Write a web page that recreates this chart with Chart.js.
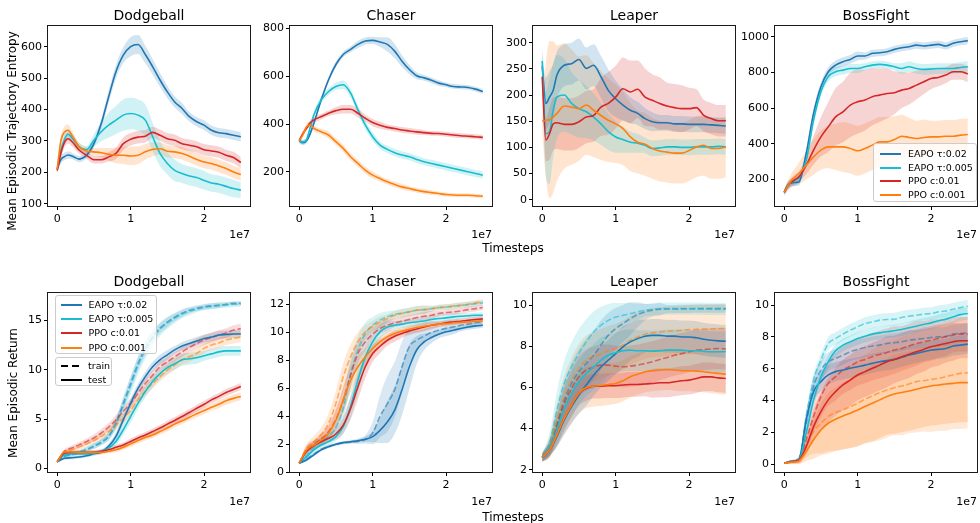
<!DOCTYPE html>
<html><head><meta charset="utf-8">
<script src="https://cdn.jsdelivr.net/npm/chart.js@4.4.1/dist/chart.umd.min.js"></script>
<style>
html,body{margin:0;padding:0;background:#fff;}
#fig{position:relative;width:980px;height:523px;overflow:hidden;font-family:"DejaVu Sans",sans-serif;color:#000;}
#fig canvas{position:absolute;}
.txt{position:absolute;white-space:nowrap;line-height:1;}
.leg{position:absolute;background:rgba(255,255,255,0.8);border:1px solid #cccccc;border-radius:3px;box-sizing:border-box;font-size:9.5px;z-index:5;}
.leg .ln{position:absolute;height:2px;transform:translateY(-50%);}
.leg .lb{position:absolute;transform:translateY(-50%);line-height:1;white-space:nowrap;}
</style></head><body><div id="fig"></div><script>
// ---------- labels ----------
const COLORS = ['#1f77b4','#17becf','#d62728','#ff7f0e'];
const METHODS = ['EAPO \u03c4:0.02','EAPO \u03c4:0.005','PPO c:0.01','PPO c:0.001'];
const ENVS = ['Dodgeball','Chaser','Leaper','BossFight'];
const YLABEL_TOP = 'Mean Episodic Trajectory Entropy';
const YLABEL_BOT = 'Mean Episodic Return';
const XLABEL = 'Timesteps';

// x positions in units of 1e6 timesteps
const X_TOP = [0,0.5,1,1.5,2,3,4,5,6,7,8,9,10,11,12,13,14,15,16,17,18,19,20,21,22,23,24,25];
const X_BOT = [0,1,2,3,4,5,6,7,8,9,10,11,12,13,14,15,16,17,18,19,20,21,22,23,24,25];
const X_TICKS = [0,10,20];

// ---------- tick values ----------
const YT_TOP_DB = [100,200,300,400,500,600];
const YT_TOP_CH = [200,400,600,800];
const YT_TOP_LP = [0,50,100,150,200,250,300];
const YT_TOP_BF = [200,400,600,800,1000];
const YT_BOT_DB = [0,5,10,15];
const YT_BOT_CH = [0,2,4,6,8,10,12];
const YT_BOT_LP = [2,4,6,8,10];
const YT_BOT_BF = [0,2,4,6,8,10];

// ---------- top row: trajectory entropy (mean, half-width of band) ----------
const DB_E02   = [210,240,250,255,252,242,254,291,355,440,520,573,600,607,575,536,494,456,424,403,377,361,350,334,326,323,318,313];
const DB_E02_S = [10,12,12,12,10,10,10,12,15,20,22,25,30,30,28,25,22,20,18,18,15,15,15,15,15,15,15,15];
const DB_E005  = [210,270,305,322,310,281,272,302,329,350,366,382,387,382,366,313,260,228,206,196,188,183,174,166,162,155,148,143];
const DB_E005_S= [10,15,15,15,15,12,12,20,30,40,45,50,50,50,50,45,40,35,35,30,30,30,30,28,28,28,28,25];
const DB_P01   = [205,260,295,307,298,270,254,240,240,249,260,291,305,312,315,327,318,307,302,291,286,281,272,268,264,254,247,231];
const DB_P01_S = [10,15,15,15,15,12,12,12,12,15,18,20,20,20,20,18,18,18,18,18,18,18,18,18,18,18,18,18];
const DB_P001  = [210,300,328,334,318,281,268,265,262,257,254,254,252,254,265,273,275,267,265,260,251,241,233,228,220,212,201,193];
const DB_P001_S= [10,15,18,18,15,12,12,12,15,20,25,28,30,28,25,22,20,20,20,20,20,20,20,20,20,20,20,20];

const CH_E02   = [330,322,330,360,403,501,585,649,691,712,733,747,750,743,733,705,663,628,602,593,583,571,564,557,555,553,546,536];
const CH_E02_S = [10,10,10,10,12,12,12,12,12,12,15,15,15,20,30,30,25,20,15,12,12,12,10,10,10,10,10,10];
const CH_E005  = [330,325,335,385,438,501,536,557,564,529,459,396,347,312,294,280,270,263,252,242,235,228,221,214,207,200,193,186];
const CH_E005_S= [10,10,10,12,12,15,15,15,18,18,18,18,18,15,15,15,15,15,15,15,15,15,15,15,15,15,15,15];
const CH_P01   = [330,360,382,405,417,431,445,456,462,462,445,424,406,395,386,381,375,371,367,364,361,360,357,354,351,349,347,344];
const CH_P01_S = [10,10,10,12,12,12,12,15,18,18,18,15,15,15,12,12,12,12,12,10,10,10,10,10,10,10,10,10];
const CH_P001  = [330,355,389,396,382,368,354,326,298,263,235,207,186,172,158,147,137,130,123,117,113,109,105,103,102,102,100,98];
const CH_P001_S= [10,10,12,12,12,12,15,15,15,15,15,15,15,12,12,12,12,10,10,10,10,8,8,8,8,8,8,8];

const LP_E02   = [255,184,196,209,238,257,260,268,251,257,235,209,193,181,171,165,155,149,147,147,145,145,144,144,144,143,142,141];
const LP_E02_S = [30,50,50,50,45,40,40,40,40,40,40,40,35,30,25,22,20,18,15,15,15,15,15,15,15,15,15,15];
const LP_E005  = [265,126,130,171,196,200,184,174,168,158,145,130,120,115,110,108,104,98,99,101,101,100,100,101,101,101,102,101];
const LP_E005_S= [20,80,100,90,80,70,60,55,50,45,40,35,30,25,20,18,15,15,15,15,15,15,15,15,15,15,15,15];
const LP_P01   = [235,114,126,145,147,144,144,149,158,161,177,184,196,212,206,211,196,190,184,179,176,174,174,176,161,155,151,151];
const LP_P01_S = [20,40,50,50,50,50,50,50,50,50,55,60,60,60,60,55,55,50,50,45,45,45,40,35,30,30,30,30];
const LP_P001  = [150,152,153,158,165,179,177,174,181,171,161,152,145,136,120,110,106,98,93,91,89,89,94,101,104,98,98,101];
const LP_P001_S= [20,110,150,145,130,120,110,100,95,90,85,80,75,70,65,60,60,58,58,58,58,58,58,58,58,58,58,58];

const BF_E02   = [130,168,181,184,187,346,570,720,804,841,860,873,892,892,907,910,916,929,938,944,953,948,953,957,948,963,972,978];
const BF_E02_S = [15,20,20,20,20,25,25,25,25,25,25,25,25,20,20,20,20,20,20,20,20,20,20,20,20,20,20,20];
const BF_E005  = [125,165,185,200,210,308,533,692,776,804,813,822,822,832,841,845,841,832,822,832,822,817,819,822,822,822,828,832];
const BF_E005_S= [15,20,20,20,20,25,25,25,25,25,25,25,25,20,20,20,20,20,30,30,30,30,30,30,30,30,30,30];
const BF_P01   = [130,165,187,200,215,280,365,439,495,551,579,617,636,645,664,673,682,686,701,710,729,748,766,772,785,804,804,791];
const BF_P01_S = [15,20,25,30,30,50,80,110,140,160,170,180,180,170,160,150,140,120,100,90,80,70,60,50,45,45,45,45];
const BF_P001  = [130,165,196,215,234,280,327,365,383,383,383,374,361,374,393,411,411,424,443,436,430,436,439,439,443,443,449,452];
const BF_P001_S= [20,30,40,50,60,80,100,110,120,130,140,140,140,140,140,140,140,130,120,110,100,100,90,90,90,90,90,90];

// ---------- bottom row: episodic return, test (solid) and train (dashed) ----------
const DB2_E02_TE   = [0.7,1.04,1.1,1.17,1.3,1.5,1.68,2.25,3.26,4.93,6.6,8.1,9.3,10.3,11.0,11.5,12.0,12.4,12.65,12.9,13.15,13.3,13.5,13.55,13.6,13.6];
const DB2_E02_TE_S = [0.1,0.15,0.15,0.15,0.15,0.2,0.2,0.3,0.4,0.5,0.5,0.5,0.5,0.5,0.5,0.5,0.4,0.4,0.4,0.4,0.4,0.4,0.4,0.4,0.4,0.4];
const DB2_E005_TE  = [0.7,1.4,1.48,1.48,1.48,1.58,1.75,2.08,2.75,3.93,5.27,6.6,7.8,8.8,9.6,10.2,10.6,11.0,11.1,11.2,11.4,11.6,11.8,11.9,11.9,11.9];
const DB2_E005_TE_S= [0.1,0.15,0.15,0.15,0.15,0.2,0.2,0.3,0.4,0.5,0.6,0.6,0.6,0.6,0.6,0.6,0.6,0.6,0.6,0.6,0.5,0.5,0.5,0.5,0.5,0.5];
const DB2_P01_TE   = [0.7,1.58,1.64,1.64,1.64,1.68,1.75,1.9,2.15,2.4,2.75,3.1,3.4,3.75,4.1,4.5,4.87,5.27,5.67,6.1,6.5,6.95,7.3,7.7,8.0,8.3];
const DB2_P01_TE_S = [0.1,0.2,0.2,0.2,0.2,0.2,0.2,0.2,0.25,0.25,0.3,0.3,0.3,0.3,0.3,0.35,0.35,0.35,0.35,0.35,0.35,0.35,0.35,0.35,0.35,0.35];
const DB2_P001_TE  = [0.7,1.68,1.68,1.64,1.64,1.64,1.64,1.75,1.9,2.15,2.5,2.85,3.15,3.4,3.75,4.1,4.5,4.83,5.2,5.54,5.87,6.2,6.5,6.85,7.1,7.3];
const DB2_P001_TE_S= [0.1,0.2,0.2,0.2,0.2,0.2,0.2,0.2,0.25,0.25,0.3,0.3,0.3,0.3,0.3,0.35,0.35,0.35,0.35,0.35,0.35,0.35,0.4,0.4,0.4,0.4];
const DB2_E02_TR   = [0.7,1.25,1.4,1.64,1.9,2.25,2.65,3.25,4.6,6.6,8.6,10.6,12.15,13.3,14.2,14.8,15.3,15.7,16.0,16.2,16.35,16.45,16.5,16.6,16.7,16.7];
const DB2_E02_TR_S = [0.1,0.2,0.2,0.2,0.25,0.3,0.3,0.4,0.5,0.6,0.7,0.7,0.7,0.6,0.5,0.5,0.4,0.4,0.3,0.3,0.3,0.3,0.3,0.2,0.2,0.2];
const DB2_E005_TR  = [0.7,1.3,1.5,1.7,1.95,2.3,2.7,3.3,4.5,6.4,8.4,10.4,12.0,13.2,14.1,14.7,15.2,15.6,15.9,16.1,16.3,16.4,16.5,16.55,16.6,16.65];
const DB2_E005_TR_S= [0.1,0.2,0.2,0.2,0.25,0.3,0.3,0.4,0.6,0.8,0.9,0.9,0.9,0.8,0.7,0.6,0.5,0.4,0.4,0.3,0.3,0.3,0.3,0.3,0.3,0.3];
const DB2_P01_TR   = [0.7,1.75,2.08,2.4,2.75,3.1,3.6,4.2,4.93,5.8,6.6,7.6,8.6,9.45,10.3,10.8,11.3,11.8,12.25,12.65,13.0,13.25,13.5,13.7,14.0,14.15];
const DB2_P01_TR_S = [0.1,0.2,0.25,0.3,0.3,0.35,0.4,0.4,0.5,0.5,0.5,0.5,0.5,0.5,0.5,0.5,0.5,0.5,0.5,0.5,0.5,0.5,0.5,0.5,0.5,0.5];
const DB2_P001_TR  = [0.7,1.64,1.9,2.2,2.5,2.85,3.25,3.75,4.4,5.1,5.9,6.95,7.85,8.6,9.3,9.95,10.5,11.0,11.3,11.65,12.15,12.5,12.7,13.0,13.15,13.3];
const DB2_P001_TR_S= [0.1,0.2,0.25,0.3,0.3,0.35,0.4,0.4,0.5,0.5,0.5,0.5,0.5,0.5,0.5,0.5,0.5,0.5,0.5,0.5,0.5,0.5,0.5,0.5,0.5,0.5];

const CH2_E02_TE   = [0.65,0.88,1.24,1.6,1.83,2.0,2.12,2.19,2.26,2.36,2.55,3.0,3.6,4.45,5.9,7.55,8.75,9.33,9.64,9.88,10.05,10.17,10.29,10.4,10.48,10.52];
const CH2_E02_TE_S = [0.05,0.1,0.1,0.1,0.1,0.1,0.1,0.1,0.15,0.2,0.4,0.9,1.5,1.7,1.8,1.6,1.0,0.6,0.4,0.3,0.3,0.3,0.2,0.2,0.2,0.2];
const CH2_E005_TE  = [0.65,1.12,1.6,1.95,2.19,2.55,3.26,4.7,6.6,8.26,9.33,10.05,10.4,10.52,10.6,10.7,10.76,10.83,10.93,11.0,11.05,11.12,11.17,11.2,11.24,11.24];
const CH2_E005_TE_S= [0.05,0.15,0.2,0.2,0.25,0.3,0.5,0.8,0.9,0.8,0.6,0.5,0.4,0.3,0.3,0.3,0.3,0.3,0.3,0.3,0.3,0.3,0.2,0.2,0.2,0.2];
const CH2_P01_TE   = [0.65,1.48,1.9,2.19,2.43,2.74,3.38,4.57,6.12,7.55,8.5,9.02,9.45,9.74,9.93,10.12,10.26,10.4,10.52,10.6,10.7,10.76,10.81,10.88,10.93,10.98];
const CH2_P01_TE_S = [0.05,0.2,0.3,0.3,0.3,0.4,0.6,0.8,0.9,0.8,0.6,0.5,0.4,0.4,0.3,0.3,0.3,0.3,0.3,0.2,0.2,0.2,0.2,0.2,0.2,0.2];
const CH2_P001_TE  = [0.65,1.6,1.95,2.3,2.79,3.74,5.17,6.6,7.55,8.26,8.86,9.33,9.69,9.93,10.1,10.24,10.36,10.45,10.52,10.6,10.64,10.7,10.74,10.76,10.81,10.83];
const CH2_P001_TE_S= [0.05,0.3,0.3,0.4,0.5,0.7,0.9,0.9,0.8,0.6,0.5,0.4,0.4,0.3,0.3,0.3,0.3,0.3,0.2,0.2,0.2,0.2,0.2,0.2,0.2,0.2];
const CH2_E02_TR   = [0.65,0.95,1.3,1.65,1.85,2.0,2.1,2.15,2.2,2.35,2.8,4.0,4.9,5.9,7.55,9.0,9.45,9.74,10.0,10.17,10.3,10.4,10.52,10.6,10.7,10.76];
const CH2_E02_TR_S = [0.05,0.1,0.1,0.1,0.1,0.1,0.1,0.1,0.15,0.3,0.8,1.5,2.0,2.0,1.8,1.2,0.7,0.5,0.4,0.3,0.3,0.3,0.3,0.3,0.3,0.3];
const CH2_E005_TR  = [0.65,1.2,1.8,2.2,2.6,3.2,4.6,7.07,8.74,9.93,10.52,10.88,11.12,11.3,11.4,11.48,11.6,11.64,11.71,11.79,11.83,11.88,11.95,12.0,12.07,12.12];
const CH2_E005_TR_S= [0.05,0.2,0.3,0.3,0.4,0.5,0.8,1.0,1.0,0.8,0.6,0.5,0.4,0.3,0.3,0.3,0.3,0.3,0.2,0.2,0.2,0.2,0.2,0.2,0.2,0.2];
const CH2_P01_TR   = [0.65,1.6,2.0,2.4,2.9,3.8,5.17,6.95,8.5,9.33,9.88,10.29,10.52,10.69,10.81,10.93,11.07,11.17,11.24,11.36,11.43,11.48,11.55,11.64,11.71,11.79];
const CH2_P01_TR_S = [0.05,0.3,0.3,0.4,0.5,0.7,0.9,0.9,0.8,0.6,0.5,0.4,0.4,0.3,0.3,0.3,0.3,0.3,0.3,0.2,0.2,0.2,0.2,0.2,0.2,0.2];
const CH2_P001_TR  = [0.65,1.7,2.2,2.7,3.5,4.93,6.83,8.26,9.33,10.05,10.45,10.76,11.0,11.24,11.36,11.48,11.6,11.64,11.71,11.79,11.83,11.9,11.95,12.02,12.12,12.19];
const CH2_P001_TR_S= [0.05,0.3,0.4,0.5,0.7,0.9,1.0,0.9,0.7,0.5,0.4,0.4,0.3,0.3,0.3,0.3,0.3,0.3,0.2,0.2,0.2,0.2,0.2,0.2,0.2,0.2];

const LP2_E02_TE   = [2.6,2.97,3.62,4.42,5.07,5.64,6.12,6.6,7.0,7.33,7.65,7.98,8.22,8.38,8.5,8.54,8.54,8.5,8.5,8.46,8.46,8.42,8.35,8.3,8.27,8.25];
const LP2_E02_TE_S = [0.2,0.3,0.5,0.7,0.8,0.9,1.0,1.0,1.0,1.0,1.0,1.0,0.9,0.9,0.8,0.8,0.8,0.8,0.8,0.8,0.8,0.8,0.8,0.8,0.8,0.8];
const LP2_E005_TE  = [2.6,3.05,3.94,4.99,5.72,6.28,6.69,7.0,7.33,7.57,7.69,7.79,7.82,7.79,7.79,7.77,7.79,7.82,7.82,7.82,7.79,7.79,7.77,7.74,7.74,7.74];
const LP2_E005_TE_S= [0.2,0.4,0.8,1.0,1.1,1.1,1.1,1.1,1.1,1.0,1.0,1.0,1.0,1.0,1.0,1.0,1.0,1.0,1.0,1.0,1.0,1.0,1.0,1.0,1.0,1.0];
const LP2_P01_TE   = [2.6,2.97,3.7,4.5,5.15,5.72,5.96,6.07,6.07,6.09,6.09,6.12,6.15,6.15,6.17,6.2,6.23,6.23,6.28,6.33,6.36,6.44,6.52,6.52,6.47,6.44];
const LP2_P01_TE_S = [0.2,0.3,0.5,0.6,0.6,0.6,0.6,0.6,0.6,0.6,0.6,0.6,0.6,0.6,0.6,0.7,0.7,0.7,0.7,0.7,0.7,0.7,0.7,0.7,0.7,0.7];
const LP2_P001_TE  = [2.6,2.97,3.7,4.5,5.15,5.72,6.0,6.07,6.1,6.15,6.2,6.33,6.52,6.65,6.77,6.82,6.85,6.88,6.85,6.82,6.82,6.8,6.77,6.72,6.69,6.65];
const LP2_P001_TE_S= [0.2,0.3,0.6,0.8,0.9,1.0,1.0,1.0,1.0,1.0,1.0,1.0,1.0,1.0,1.0,1.0,1.0,1.0,1.0,1.0,1.0,1.0,1.0,1.0,1.0,1.0];
const LP2_E02_TR   = [2.6,3.1,4.26,5.39,6.2,6.77,7.17,7.57,8.06,8.54,8.87,9.11,9.35,9.55,9.68,9.76,9.81,9.82,9.82,9.83,9.83,9.84,9.84,9.84,9.84,9.84];
const LP2_E02_TR_S = [0.2,0.4,0.7,0.9,1.0,1.1,1.2,1.2,1.2,1.1,1.0,0.9,0.8,0.6,0.4,0.3,0.3,0.2,0.2,0.2,0.2,0.2,0.2,0.2,0.2,0.2];
const LP2_E005_TR  = [2.6,3.29,4.9,6.2,7.0,7.65,8.22,8.7,9.03,9.27,9.43,9.51,9.6,9.68,9.76,9.81,9.84,9.84,9.84,9.84,9.84,9.84,9.83,9.83,9.82,9.82];
const LP2_E005_TR_S= [0.2,0.5,0.9,1.1,1.2,1.2,1.1,1.0,0.9,0.8,0.7,0.6,0.5,0.4,0.3,0.3,0.3,0.3,0.3,0.3,0.3,0.3,0.3,0.3,0.3,0.3];
const LP2_P01_TR   = [2.6,3.0,4.1,5.23,5.96,6.52,6.85,6.98,7.09,7.09,7.04,7.01,7.04,7.09,7.17,7.25,7.36,7.46,7.57,7.65,7.74,7.82,7.85,7.88,7.9,7.88];
const LP2_P01_TR_S = [0.2,0.4,0.6,0.8,0.9,1.0,1.0,1.0,1.0,1.0,1.0,1.0,1.0,1.0,1.0,1.0,1.0,1.0,1.0,1.0,1.0,1.0,1.0,1.0,1.0,1.0];
const LP2_P001_TR  = [2.6,3.1,4.42,5.55,6.36,6.93,7.33,7.5,7.65,7.79,7.9,8.06,8.3,8.46,8.59,8.66,8.7,8.74,8.75,8.79,8.82,8.83,8.84,8.85,8.87,8.87];
const LP2_P001_TR_S= [0.2,0.5,0.8,1.0,1.1,1.2,1.2,1.2,1.2,1.2,1.2,1.2,1.2,1.2,1.2,1.2,1.2,1.2,1.2,1.2,1.2,1.2,1.2,1.2,1.2,1.2];

const BF2_E02_TE   = [0.05,0.17,0.27,2.78,4.56,5.19,5.61,5.82,5.92,6.03,6.13,6.23,6.34,6.44,6.51,6.59,6.72,6.86,6.97,7.07,7.18,7.22,7.28,7.43,7.49,7.55];
const BF2_E02_TE_S = [0.05,0.05,0.1,0.5,0.6,0.6,0.6,0.6,0.6,0.6,0.6,0.6,0.6,0.6,0.6,0.6,0.6,0.6,0.6,0.6,0.6,0.6,0.6,0.6,0.6,0.6];
const BF2_E005_TE  = [0.05,0.17,0.27,1.95,4.04,5.5,6.44,7.13,7.49,7.7,7.9,8.05,8.18,8.26,8.33,8.39,8.47,8.58,8.68,8.79,8.89,9.02,9.12,9.27,9.41,9.48];
const BF2_E005_TE_S= [0.05,0.05,0.1,0.4,0.4,0.4,0.4,0.4,0.4,0.4,0.4,0.4,0.4,0.4,0.4,0.4,0.4,0.4,0.4,0.4,0.4,0.4,0.4,0.4,0.4,0.4];
const BF2_P01_TE   = [0.05,0.15,0.25,1.1,2.36,3.3,4.04,4.56,4.98,5.29,5.61,5.82,6.03,6.23,6.44,6.59,6.76,6.92,7.07,7.22,7.38,7.49,7.59,7.7,7.76,7.76];
const BF2_P01_TE_S = [0.05,0.1,0.2,0.5,0.9,1.2,1.4,1.5,1.6,1.6,1.6,1.6,1.6,1.6,1.6,1.5,1.5,1.5,1.4,1.4,1.3,1.3,1.2,1.2,1.1,1.1];
const BF2_P001_TE  = [0.05,0.12,0.2,0.8,1.53,2.15,2.57,2.82,3.03,3.2,3.41,3.62,3.83,4.04,4.25,4.41,4.5,4.6,4.71,4.83,4.92,4.98,5.04,5.08,5.13,5.13];
const BF2_P001_TE_S= [0.05,0.1,0.2,0.6,1.2,1.6,1.9,2.0,2.1,2.2,2.3,2.3,2.4,2.4,2.4,2.5,2.5,2.5,2.5,2.5,2.5,2.5,2.5,2.5,2.5,2.5];
const BF2_E02_TR   = [0.05,0.17,0.3,2.57,4.87,5.92,6.44,6.65,6.86,7.07,7.22,7.34,7.43,7.49,7.59,7.64,7.7,7.8,7.85,7.91,7.97,8.01,8.05,8.18,8.22,8.26];
const BF2_E02_TR_S = [0.05,0.05,0.1,0.5,0.6,0.6,0.6,0.6,0.6,0.6,0.6,0.6,0.6,0.6,0.6,0.6,0.6,0.6,0.6,0.6,0.6,0.6,0.6,0.6,0.6,0.6];
const BF2_E005_TR  = [0.05,0.17,0.3,3.0,5.29,6.55,7.59,7.9,8.18,8.43,8.64,8.85,8.95,9.06,9.1,9.12,9.23,9.31,9.37,9.44,9.48,9.58,9.64,9.75,9.85,9.94];
const BF2_E005_TR_S= [0.05,0.05,0.1,0.4,0.4,0.4,0.4,0.4,0.4,0.4,0.4,0.4,0.4,0.4,0.4,0.4,0.4,0.4,0.4,0.4,0.4,0.4,0.4,0.4,0.4,0.4];
const BF2_P01_TR   = [0.05,0.15,0.3,1.53,3.0,4.25,5.08,5.5,5.92,6.17,6.44,6.59,6.76,6.9,7.03,7.18,7.28,7.43,7.59,7.7,7.8,7.91,8.01,8.12,8.18,8.18];
const BF2_P01_TR_S = [0.05,0.1,0.2,0.6,1.0,1.3,1.4,1.5,1.5,1.5,1.5,1.5,1.5,1.5,1.5,1.5,1.4,1.4,1.4,1.3,1.3,1.2,1.2,1.1,1.1,1.1];
const BF2_P001_TR  = [0.05,0.12,0.25,1.1,2.05,2.57,3.0,3.24,3.41,3.62,3.83,4.08,4.29,4.5,4.67,4.81,4.92,5.04,5.19,5.25,5.33,5.4,5.5,5.61,5.71,5.75];
const BF2_P001_TR_S= [0.05,0.1,0.2,0.7,1.4,1.9,2.2,2.4,2.5,2.6,2.7,2.8,2.9,3.0,3.0,3.0,3.1,3.1,3.2,3.2,3.3,3.3,3.4,3.4,3.5,3.5];

// ---------- panels (series in METHODS order) ----------
const PANELS = [
  {row:0,col:0,xs:X_TOP,ymin:92.5,ymax:666,yticks:YT_TOP_DB,test:[[DB_E02,DB_E02_S],[DB_E005,DB_E005_S],[DB_P01,DB_P01_S],[DB_P001,DB_P001_S]]},
  {row:0,col:1,xs:X_TOP,ymin:57,ymax:810,yticks:YT_TOP_CH,test:[[CH_E02,CH_E02_S],[CH_E005,CH_E005_S],[CH_P01,CH_P01_S],[CH_P001,CH_P001_S]]},
  {row:0,col:2,xs:X_TOP,ymin:-12,ymax:332,yticks:YT_TOP_LP,test:[[LP_E02,LP_E02_S],[LP_E005,LP_E005_S],[LP_P01,LP_P01_S],[LP_P001,LP_P001_S]]},
  {row:0,col:3,xs:X_TOP,ymin:52,ymax:1060,yticks:YT_TOP_BF,test:[[BF_E02,BF_E02_S],[BF_E005,BF_E005_S],[BF_P01,BF_P01_S],[BF_P001,BF_P001_S]]},
  {row:1,col:0,xs:X_BOT,ymin:-0.34,ymax:17.75,yticks:YT_BOT_DB,
   test:[[DB2_E02_TE,DB2_E02_TE_S],[DB2_E005_TE,DB2_E005_TE_S],[DB2_P01_TE,DB2_P01_TE_S],[DB2_P001_TE,DB2_P001_TE_S]],
   train:[[DB2_E02_TR,DB2_E02_TR_S],[DB2_E005_TR,DB2_E005_TR_S],[DB2_P01_TR,DB2_P01_TR_S],[DB2_P001_TR,DB2_P001_TR_S]]},
  {row:1,col:1,xs:X_BOT,ymin:0.02,ymax:12.83,yticks:YT_BOT_CH,
   test:[[CH2_E02_TE,CH2_E02_TE_S],[CH2_E005_TE,CH2_E005_TE_S],[CH2_P01_TE,CH2_P01_TE_S],[CH2_P001_TE,CH2_P001_TE_S]],
   train:[[CH2_E02_TR,CH2_E02_TR_S],[CH2_E005_TR,CH2_E005_TR_S],[CH2_P01_TR,CH2_P01_TR_S],[CH2_P001_TR,CH2_P001_TR_S]]},
  {row:1,col:2,xs:X_BOT,ymin:1.89,ymax:10.6,yticks:YT_BOT_LP,
   test:[[LP2_E02_TE,LP2_E02_TE_S],[LP2_E005_TE,LP2_E005_TE_S],[LP2_P01_TE,LP2_P01_TE_S],[LP2_P001_TE,LP2_P001_TE_S]],
   train:[[LP2_E02_TR,LP2_E02_TR_S],[LP2_E005_TR,LP2_E005_TR_S],[LP2_P01_TR,LP2_P01_TR_S],[LP2_P001_TR,LP2_P001_TR_S]]},
  {row:1,col:3,xs:X_BOT,ymin:-0.5,ymax:10.77,yticks:YT_BOT_BF,
   test:[[BF2_E02_TE,BF2_E02_TE_S],[BF2_E005_TE,BF2_E005_TE_S],[BF2_P01_TE,BF2_P01_TE_S],[BF2_P001_TE,BF2_P001_TE_S]],
   train:[[BF2_E02_TR,BF2_E02_TR_S],[BF2_E005_TR,BF2_E005_TR_S],[BF2_P01_TR,BF2_P01_TR_S],[BF2_P001_TR,BF2_P001_TR_S]]}
];

// ---------- layout ----------
const FONT = '"DejaVu Sans", sans-serif';
const PLOT_LEFT = [48, 290, 533, 775];
const PLOT_W = 202;
const ROW_TOP = [26, 293];
const PLOT_H = [180, 179];
const AX_W = 44, AX_H = 24, PAD_T = 10, PAD_R = 6;
const fig = document.getElementById('fig');

function rgba(hex, a){ const n = parseInt(hex.slice(1),16); return `rgba(${(n>>16)&255},${(n>>8)&255},${n&255},${a})`; }
function pts(xs, ys, f){ return xs.map((x,i)=>({x:x, y:f(i)})); }
function bandSets(xs, m, s, col, a){
  return [
    {data: pts(xs, m, i=>m[i]-s[i]), borderColor:'rgba(0,0,0,0)', borderWidth:1, pointRadius:0, fill:false, cubicInterpolationMode:'monotone'},
    {data: pts(xs, m, i=>m[i]+s[i]), borderColor:'rgba(0,0,0,0)', borderWidth:1, pointRadius:0, fill:'-1', backgroundColor: rgba(col,a), cubicInterpolationMode:'monotone'}
  ];
}
function lineSet(xs, m, col, dashed){
  return {data: pts(xs, m, i=>m[i]), borderColor: dashed ? rgba(col,0.6) : col, borderWidth:1.6, pointRadius:0, fill:false,
          borderDash: dashed ? [6,2.5] : [], cubicInterpolationMode:'monotone', borderCapStyle:'butt'};
}

const framePlugin = {
  id:'frame',
  afterDatasetsDraw(chart){
    const {ctx, chartArea:a} = chart;
    ctx.save(); ctx.strokeStyle = '#1a1a1a'; ctx.lineWidth = 1;
    ctx.strokeRect(a.left-0.5, a.top-0.5, a.right-a.left+1, a.bottom-a.top+1);
    ctx.restore();
  }
};

function addText(str, x, y, size, tf, extra){
  const d = document.createElement('div');
  d.className = 'txt'; d.textContent = str;
  d.style.left = x+'px'; d.style.top = y+'px'; d.style.fontSize = size+'px';
  d.style.transform = tf || 'translate(-50%,-50%)';
  if (extra) Object.assign(d.style, extra);
  fig.appendChild(d);
}

PANELS.forEach(p => {
  const c = document.createElement('canvas');
  const W = AX_W + PLOT_W + PAD_R, H = PAD_T + PLOT_H[p.row] + AX_H;
  c.width = W; c.height = H;
  c.style.left = (PLOT_LEFT[p.col]-AX_W)+'px'; c.style.top = (ROW_TOP[p.row]-PAD_T)+'px';
  c.style.width = W+'px'; c.style.height = H+'px';
  fig.appendChild(c);

  const ds = [];
  if (p.train) p.train.forEach((s,k)=>ds.push(...bandSets(p.xs, s[0], s[1], COLORS[k], 0.17)));
  p.test.forEach((s,k)=>ds.push(...bandSets(p.xs, s[0], s[1], COLORS[k], 0.2)));
  // first dataset is drawn on top in Chart.js -> push in reverse method order
  for (let k=3;k>=0;k--) ds.push(lineSet(p.xs, p.test[k][0], COLORS[k], false));
  if (p.train) for (let k=3;k>=0;k--) ds.push(lineSet(p.xs, p.train[k][0], COLORS[k], true));

  const tickFont = {family: FONT, size: 11};
  new Chart(c, {
    type:'line',
    data:{datasets: ds},
    options:{
      responsive:false, animation:false, devicePixelRatio:1, events:[],
      layout:{padding:{left:0, top:PAD_T, right:PAD_R, bottom:0}},
      plugins:{legend:{display:false}, tooltip:{enabled:false}, filler:{drawTime:'beforeDatasetsDraw'}},
      scales:{
        x:{type:'linear', min:-1.25, max:26.25,
           afterBuildTicks: ax => { ax.ticks = X_TICKS.map(v=>({value:v})); },
           afterFit: ax => { ax.height = AX_H; },
           ticks:{font:tickFont, color:'#000', padding:3, maxRotation:0, autoSkip:false, callback: v => String(v/10)},
           grid:{drawOnChartArea:false, drawTicks:true, tickLength:4, color:'#000', lineWidth:1},
           border:{display:false}},
        y:{type:'linear', min:p.ymin, max:p.ymax,
           afterBuildTicks: ax => { ax.ticks = p.yticks.map(v=>({value:v})); },
           afterFit: ax => { ax.width = AX_W; },
           ticks:{font:tickFont, color:'#000', padding:2, autoSkip:false, callback: v => String(v)},
           grid:{drawOnChartArea:false, drawTicks:true, tickLength:4, color:'#000', lineWidth:1},
           border:{display:false}}
      }
    },
    plugins:[framePlugin]
  });

  // title and offset text
  addText(ENVS[p.col], PLOT_LEFT[p.col] + PLOT_W/2, p.row===0 ? 15 : 281, 14);
  addText('1e7', PLOT_LEFT[p.col] + PLOT_W, p.row===0 ? 234 : 501, 11, 'translate(-100%,-50%)');
});

// axis labels
addText(XLABEL, 513, 248, 12);
addText(XLABEL, 513, 517, 12);
addText(YLABEL_TOP, 12, 131, 12, 'translate(-50%,-50%) rotate(-90deg)');
addText(YLABEL_BOT, 13, 393, 12, 'translate(-50%,-50%) rotate(-90deg)');

// legends
function legend(left, top, w, h, entries, rowY, sx0, sx1, tx){
  const L = document.createElement('div');
  L.className = 'leg';
  Object.assign(L.style, {left:left+'px', top:top+'px', width:w+'px', height:h+'px'});
  entries.forEach((e,i)=>{
    const ln = document.createElement('div'); ln.className = 'ln';
    Object.assign(ln.style, {left:sx0+'px', width:(sx1-sx0)+'px', top:rowY[i]+'px', background:e.bg});
    const lb = document.createElement('div'); lb.className = 'lb'; lb.textContent = e.label;
    Object.assign(lb.style, {left:tx+'px', top:rowY[i]+'px'});
    L.appendChild(ln); L.appendChild(lb);
  });
  fig.appendChild(L);
}
const methodEntries = METHODS.map((m,i)=>({label:m, bg:COLORS[i]}));
legend(873, 143, 104, 59, methodEntries, [10,23.5,37,50.5], 6, 27, 34);
legend(55, 295, 102, 59, methodEntries, [9,23.2,37.4,51.6], 5, 26, 32.5);
legend(55, 357, 57, 29, [
  {label:'train', bg:'repeating-linear-gradient(90deg,#000 0 7px,transparent 7px 11px)'},
  {label:'test', bg:'#000'}
], [7.5,21.5], 5, 26, 32);
</script></body></html>
